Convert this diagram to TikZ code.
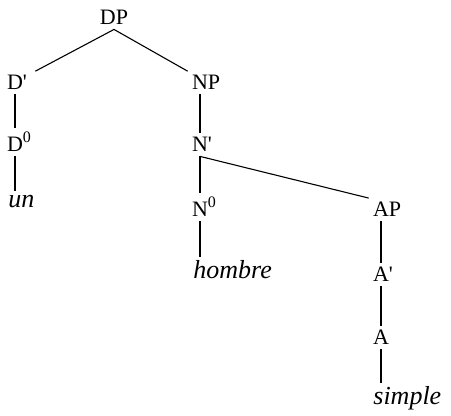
\documentclass[tikz,border=0pt]{standalone}
\usepackage{fontspec}
\setmainfont{Liberation Serif}
\newcommand{\zerosup}{\raisebox{0.42em}{\fontsize{8}{8}\selectfont 0}}

\begin{document}
\begin{tikzpicture}[
    x=0.5pt, y=-0.5pt,
    cat/.style={anchor=base, inner sep=2pt, font=\fontsize{11}{13}\selectfont},
    leaf/.style={anchor=base west, inner sep=2pt, font=\fontsize{13}{15}\selectfont\itshape},
    branch/.style={line width=0.55pt}
  ]
  \useasboundingbox (0,0) rectangle (451,416);

  \node[cat] (DP) at (114,25)  {DP};
  \node[cat] (D1) at (15,90)   {D\rlap{\textquotesingle}};
  \node[cat] (NP) at (200,90)  {N\rlap{P}};
  \node[cat] (D0) at (15,152)  {D\rlap{\zerosup}};
  \node[cat] (N1) at (200,152) {N\rlap{\textquotesingle}};
  \node[leaf] (un) at (4,208)  {un};
  \node[cat] (N0) at (200,217) {N\rlap{\zerosup}};
  \node[cat] (AP) at (381,217) {A\rlap{P}};
  \node[leaf] (hombre) at (189,279) {hombre};
  \node[cat] (A1) at (381,282) {A\rlap{\textquotesingle}};
  \node[cat] (A) at (381,345)  {A};
  \node[leaf] (simple) at (369,405) {simple};

  \draw[branch] (DP.south) -- ([xshift=4pt]D1.north east);
  \draw[branch] (DP.south) -- (NP.north west);
  \draw[branch] (D1.south) -- (D0.north);
  \draw[branch] (NP.south) -- (N1.north);
  \draw[branch] (D0.south) -- (D0.south |- un.north);
  \draw[branch] (N1.south) -- (N0.north);
  \draw[branch] (N1.south) -- (AP.north west);
  \draw[branch] (N0.south) -- (N0.south |- hombre.north);
  \draw[branch] (AP.south) -- (A1.north);
  \draw[branch] (A1.south) -- (A.north);
  \draw[branch] (A.south) -- (A.south |- simple.north);
\end{tikzpicture}
\end{document}
